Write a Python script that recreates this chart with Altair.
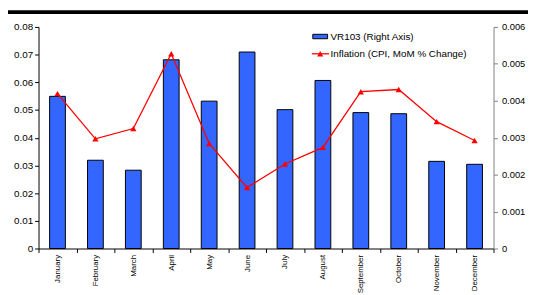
import altair as alt
import pandas as pd

months = ["January", "February", "March", "April", "May", "June", "July",
          "August", "September", "October", "November", "December"]
vr103 = [0.00412, 0.00239, 0.00212, 0.00511, 0.00399, 0.00532, 0.00376,
         0.00455, 0.00368, 0.00365, 0.00236, 0.00228]
inflation = [0.0559, 0.0396, 0.0433, 0.0703, 0.0379, 0.0220, 0.0305,
             0.0365, 0.0566, 0.0574, 0.0458, 0.0390]
left_ticks = [0, 0.01, 0.02, 0.03, 0.04, 0.05, 0.06, 0.07, 0.08]
right_ticks = [0, 0.001, 0.002, 0.003, 0.004, 0.005, 0.006]
legend_labels = ["VR103 (Right Axis)", "Inflation (CPI, MoM % Change)"]

FONT = "Liberation Sans"
BLUE = "#3366FF"
RED = "#FF0000"

df = pd.DataFrame({"month": months, "vr103": vr103, "inflation": inflation})

x = alt.X(
    "month:N", sort=months, title=None,
    scale=alt.Scale(paddingInner=0, paddingOuter=0),
    axis=alt.Axis(labelAngle=270, labelAlign="right", labelBaseline="middle",
                  labelFontSize=8, labelFont=FONT, labelColor="black",
                  tickBand="extent", tickSize=4, labelPadding=2,
                  domainColor="black", tickColor="black", grid=False),
)

bars = alt.Chart(df).mark_bar(size=16, color=BLUE, stroke="black", strokeWidth=1).encode(
    x=x,
    y=alt.Y("vr103:Q", title=None,
            scale=alt.Scale(domain=[0, 0.006], nice=False, zero=True),
            axis=alt.Axis(orient="right", values=right_ticks, format=".3~f",
                          labelFontSize=9.5, labelFont=FONT, labelColor="black",
                          domainColor="#808080", tickColor="#808080",
                          tickSize=4, labelPadding=4, grid=False)),
)

line = alt.Chart(df).mark_line(
    color=RED, strokeWidth=1.3,
    point=alt.OverlayMarkDef(shape="triangle-up", size=40, filled=True, color=RED),
).encode(
    x=x,
    y=alt.Y("inflation:Q", title=None,
            scale=alt.Scale(domain=[0, 0.08], nice=False, zero=True),
            axis=alt.Axis(orient="left", values=left_ticks, format=".2~f",
                          labelFontSize=10, labelFont=FONT, labelColor="black",
                          domainColor="black", tickColor="black",
                          tickSize=4, labelPadding=2, grid=False)),
)

one = pd.DataFrame({"a": [0]})

leg_rect = alt.Chart(one).mark_rect(color=BLUE, stroke="black", strokeWidth=1).encode(
    x=alt.value(278.5), x2=alt.value(293.5), y=alt.value(7.5), y2=alt.value(12)
)
leg_line = alt.Chart(one).mark_rule(color=RED, strokeWidth=1.3).encode(
    x=alt.value(277.5), x2=alt.value(295), y=alt.value(27.3)
)
leg_tri = alt.Chart(one).mark_point(shape="triangle-up", size=40, filled=True, color=RED, opacity=1).encode(
    x=alt.value(286), y=alt.value(27.3)
)
leg_text = alt.Chart(pd.DataFrame({"label": legend_labels, "ypos": [10, 27.3]})).mark_text(
    align="left", baseline="middle", font=FONT, fontSize=10, color="black"
).encode(
    x=alt.value(296.5), y=alt.Y("ypos:Q", scale=None), text="label:N"
)

top_bar = alt.Chart(one).mark_rule(color="black", strokeWidth=4).encode(
    x=alt.value(-40), x2=alt.value(520), y=alt.value(-15)
)

chart = alt.layer(bars, line, leg_rect, leg_line, leg_tri, leg_text, top_bar).resolve_scale(
    y="independent"
).properties(
    width=462, height=225,
    padding={"left": 31, "top": 17, "right": 35, "bottom": 45},
    autosize=alt.AutoSizeParams(type="none"),
    background="white",
).configure_view(stroke=None)

chart.save("out.html", embed_options={"renderer": "svg", "actions": False})
